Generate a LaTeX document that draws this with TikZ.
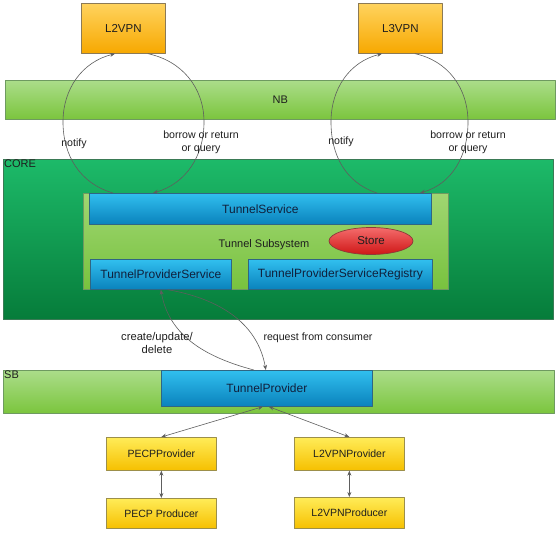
\documentclass[tikz,border=0pt]{standalone}
\usepackage{fontspec}
\setmainfont{Liberation Sans}
\usetikzlibrary{arrows.meta,shapes.geometric}

% Fill colours of the boxes (top and bottom of each gradient)
\definecolor{orangetop}{HTML}{FFD35E}
\definecolor{orangebot}{HTML}{F7A800}
\definecolor{orangeline}{HTML}{8C7A55}
\definecolor{bluetop}{HTML}{31BFEF}
\definecolor{bluebot}{HTML}{0A82BC}
\definecolor{blueline}{HTML}{2F6683}
\definecolor{bartop}{HTML}{ABDD8A}
\definecolor{barbot}{HTML}{7BC53D}
\definecolor{barline}{HTML}{6E9A60}
\definecolor{coretop}{HTML}{1DBA69}
\definecolor{corebot}{HTML}{067C3A}
\definecolor{coreline}{HTML}{3A7A55}
\definecolor{subtop}{HTML}{A0D672}
\definecolor{subbot}{HTML}{78C23E}
\definecolor{storetop}{HTML}{F46C6C}
\definecolor{storebot}{HTML}{CF1616}
\definecolor{storeline}{HTML}{8A3A3A}
\definecolor{yellowtop}{HTML}{FFEC58}
\definecolor{yellowbot}{HTML}{F6C000}
\definecolor{yellowline}{HTML}{9C8F4A}
\definecolor{linkgray}{HTML}{5E5E5E}
\definecolor{inktext}{HTML}{1E1E1E}
\definecolor{navytext}{HTML}{10203C}

\begin{document}
\begin{tikzpicture}[x=1pt, y=-1pt, line cap=round, line join=round,
		>={Stealth[length=5pt,width=4pt]},
		font=\fontsize{11}{13}\selectfont, text=inktext,
		blk/.style={draw, anchor=north west, inner sep=0pt, line width=.7pt},
		vpnbox/.style={blk, draw=orangeline, top color=orangetop, bottom color=orangebot,
			font=\fontsize{11.5}{13}\selectfont},
		layerbar/.style={blk, draw=barline, top color=bartop, bottom color=barbot},
		corebox/.style={blk, draw=coreline, top color=coretop, bottom color=corebot},
		subsysbox/.style={blk, draw=barline, top color=subtop, bottom color=subbot},
		svcbox/.style={blk, draw=blueline, top color=bluetop, bottom color=bluebot,
			text=navytext, font=\fontsize{12}{14}\selectfont},
		provbox/.style={blk, draw=yellowline, top color=yellowtop, bottom color=yellowbot,
			font=\fontsize{10.5}{12}\selectfont},
		storenode/.style={ellipse, draw=storeline, line width=.7pt, inner sep=0pt,
			top color=storetop, bottom color=storebot, font=\fontsize{11.5}{13}\selectfont},
		note/.style={font=\fontsize{10.6}{13}\selectfont, align=center, inner sep=0pt},
		link/.style={draw=linkgray, line width=.6pt},
	]
	% Page window
	\useasboundingbox (0,0) rectangle (558,536);
	
	% Applications on top
	\node[vpnbox, minimum width=84pt, minimum height=50pt] (l2vpn) at (81,3) {L2VPN};
	\node[vpnbox, minimum width=84pt, minimum height=50pt] (l3vpn) at (358,3) {L3VPN};
	
	% Northbound layer
	\node[layerbar, minimum width=550pt, minimum height=39pt] (nb) at (5,80) {NB};
	
	% Core layer and the tunnel subsystem
	\node[corebox, minimum width=550pt, minimum height=160pt] (core) at (3,159) {};
	\node[anchor=north west, inner sep=1pt] (corelbl) at (core.north west) {CORE};
	\node[subsysbox, minimum width=365pt, minimum height=96pt] (subsys) at (83,193) {};
	\node[svcbox, minimum width=342pt, minimum height=31pt] (tsvc) at (89,193) {TunnelService};
	\node[inner sep=0pt] (subsyslbl) at (264,245) {Tunnel Subsystem};
	\node[storenode, minimum width=84pt, minimum height=27pt] (store) at (371,241) {Store};
	\node[svcbox, minimum width=141pt, minimum height=30pt] (tps) at (90,259) {TunnelProviderService};
	\node[svcbox, minimum width=184pt, minimum height=30pt] (tpsr) at (248,259) {TunnelProviderServiceRegistry};
	
	% Southbound layer
	\node[layerbar, minimum width=551pt, minimum height=43pt] (sb) at (3,370) {};
	\node[anchor=north west, inner sep=1pt] (sblbl) at (sb.north west) {SB};
	\node[svcbox, minimum width=211pt, minimum height=36pt] (tprov) at (161,370) {TunnelProvider};
	
	% Providers and producers
	\node[provbox, minimum width=110pt, minimum height=33pt] (pecp) at (106,437) {PECPProvider};
	\node[provbox, minimum width=110pt, minimum height=30pt] (pecpprod) at (106,498) {PECP Producer};
	\node[provbox, minimum width=110pt, minimum height=33pt] (l2p) at (294,437) {L2VPNProvider};
	\node[provbox, minimum width=110pt, minimum height=31pt] (l2prod) at (294,497) {L2VPNProducer};
	
	% Turning points of the loops between the applications and TunnelService
	\coordinate (l2west) at (63,122);
	\coordinate (l2east) at (204,122);
	\coordinate (l3west) at (331,122);
	\coordinate (l3east) at (468,122);
	
	% notify / borrow loops
	\draw[link,->] ([xshift=24pt]tsvc.north west) to[out=164,in=-90] (l2west)
		to[out=90,in=194] ([xshift=34pt]l2vpn.south west);
	\draw[link,->] ([xshift=67pt]l2vpn.south west) to[out=-12,in=90] (l2east)
		to[out=-90,in=16] ([xshift=64pt]tsvc.north west);
	\draw[link,->] ([xshift=288pt]tsvc.north west) to[out=162,in=-90] (l3west)
		to[out=90,in=194] ([xshift=24pt]l3vpn.south west);
	\draw[link,->] ([xshift=57pt]l3vpn.south west) to[out=-12,in=90] (l3east)
		to[out=-90,in=16] ([xshift=331pt]tsvc.north west);
	
	% Loop labels
	\node[note] (l2notify) at (74,144) {notify};
	\node[note] (l2borrow) at (201,142) {borrow or return\\or query};
	\node[note] (l3notify) at (341,142) {notify};
	\node[note] (l3borrow) at (468,142) {borrow or return\\or query};
	
	% Between TunnelProviderService and TunnelProvider
	\draw[link,->] ([xshift=-13pt]tprov.north) to[out=165,in=-80] (tps.south);
	\draw[link,->] ([xshift=7pt]tps.south) to[out=-10,in=100] ([xshift=-1pt]tprov.north);
	\node[note, font=\fontsize{11.2}{13}\selectfont] (cudlbl) at (157,343) {create/update/\\delete};
	\node[note] (reqlbl) at (318,338) {request from consumer};
	
	% TunnelProvider down to providers and producers
	\draw[link,<->] ([xshift=-4pt]tprov.south) -- (pecp.north);
	\draw[link,<->] ([xshift=2pt]tprov.south) -- (l2p.north);
	\draw[link,<->] (pecp.south) -- (pecpprod.north);
	\draw[link,<->] (l2p.south) -- (l2prod.north);
\end{tikzpicture}
\end{document}
